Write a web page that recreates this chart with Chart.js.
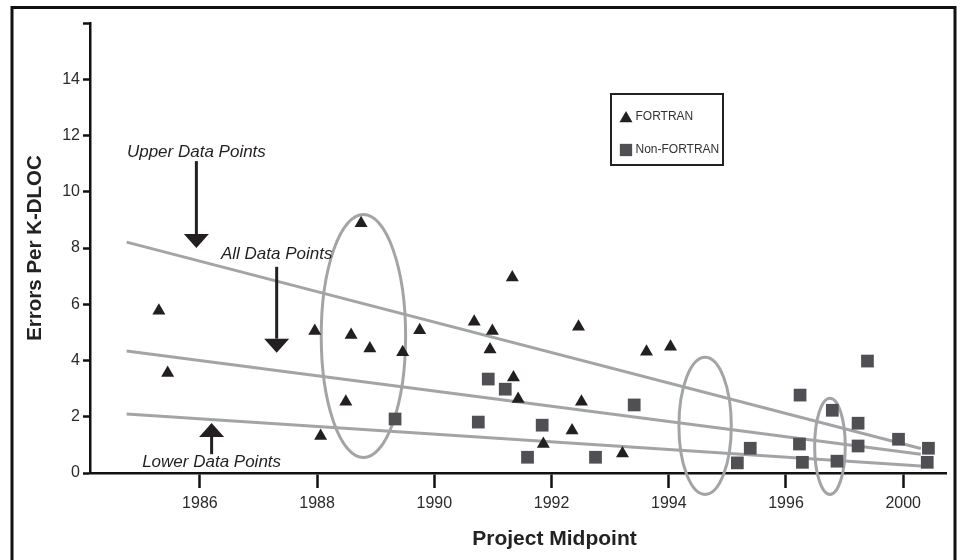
<!DOCTYPE html>
<html>
<head>
<meta charset="utf-8">
<title>Errors Per K-DLOC vs Project Midpoint</title>
<script src="https://cdn.jsdelivr.net/npm/chart.js@4.4.1/dist/chart.umd.min.js"></script>
<style>
  html, body { margin: 0; padding: 0; background: #fff; }
  #wrap { width: 963px; height: 560px; }
</style>
</head>
<body>
<div id="wrap"><canvas id="errChart" width="963" height="560"></canvas></div>
<script>
// x values are positions along the drawn axis (its last tick is labelled "2000")
const xTicks = [1986, 1988, 1990, 1992, 1994, 1996, 1998];
const xTickLabels = ["1986", "1988", "1990", "1992", "1994", "1996", "2000"];
const yTicks = [0, 2, 4, 6, 8, 10, 12, 14, 16];
const yTickLabels = ["0", "2", "4", "6", "8", "10", "12", "14", ""];

const fortranX = [1985.30, 1985.45, 1987.96, 1988.06, 1988.49, 1988.58, 1988.75, 1988.90,
  1989.46, 1989.75, 1990.68, 1990.95, 1990.99, 1991.33, 1991.35, 1991.43, 1991.86,
  1992.35, 1992.46, 1992.51, 1993.21, 1993.62, 1994.03];
const fortranY = [5.77, 3.56, 5.05, 1.32, 2.53, 4.91, 8.88, 4.43,
  4.29, 5.08, 5.38, 4.39, 5.05, 6.95, 3.40, 2.63, 1.03,
  1.51, 5.20, 2.53, 0.69, 4.31, 4.49];

const nonFortranX = [1989.33, 1990.75, 1990.92, 1991.21, 1991.59, 1991.84, 1992.75, 1993.41,
  1995.17, 1995.39, 1996.23, 1996.24, 1996.28, 1996.79, 1996.87, 1997.23, 1997.23,
  1997.39, 1997.92, 1998.41, 1998.43];
const nonFortranY = [1.92, 1.81, 3.34, 2.98, 0.56, 1.70, 0.56, 2.42,
  0.36, 0.88, 1.03, 2.77, 0.38, 2.23, 0.42, 0.96, 1.77,
  3.98, 1.20, 0.38, 0.88];

// trend lines (start, end)
const trendX = [1984.75, 1998.30];
const upperY = [8.21, 0.87];
const allY = [4.34, 0.67];
const lowerY = [2.10, 0.25];

// grey rings: centre and half sizes in axis units
const ringX = [1988.79, 1994.62, 1996.75];
const ringY = [4.87, 1.68, 0.95];
const ringRx = [0.72, 0.447, 0.261];
const ringRy = [4.32, 2.44, 1.71];

// arrow notes
const noteText = ["Upper Data Points", "All Data Points", "Lower Data Points"];
const noteX = [1985.94, 1987.31, 1986.20];
const noteTextY = [11.39, 7.79, 0.37];
const noteFromY = [11.09, 7.33, 0.67];
const noteToY = [8.0, 4.28, 1.78];

const FONT = '"Liberation Sans", Arial, sans-serif';
const INK = "#231f20";
const GRAY = "#a2a4a6";
const SQUARE = "#4f4f54";

Chart.defaults.font.family = FONT;

function pts(xs, ys) {
  return xs.map((x, i) => ({ x: x, y: ys[i] }));
}

const decor = {
  id: "decor",
  beforeDraw(chart) {
    const ctx = chart.ctx;
    ctx.save();
    ctx.fillStyle = "#fff";
    ctx.fillRect(0, 0, chart.width, chart.height);
    // outer frame, bottom edge falls just off the page
    ctx.strokeStyle = "#111";
    ctx.lineWidth = 3;
    ctx.strokeRect(12, 7.5, 943, 556);
    ctx.restore();
  },
  beforeDatasetsDraw(chart) {
    const { ctx, scales: { x, y } } = chart;
    ctx.save();
    ctx.strokeStyle = GRAY;
    ctx.lineWidth = 3;
    ringX.forEach((cx, i) => {
      const px = x.getPixelForValue(cx);
      const py = y.getPixelForValue(ringY[i]);
      const rx = x.getPixelForValue(cx + ringRx[i]) - px;
      const ry = py - y.getPixelForValue(ringY[i] + ringRy[i]);
      ctx.beginPath();
      ctx.ellipse(px, py, rx, ry, 0, 0, Math.PI * 2);
      ctx.stroke();
    });
    ctx.restore();
  },
  afterDraw(chart) {
    const { ctx, chartArea, scales: { x, y } } = chart;
    ctx.save();

    // arrows and their labels
    ctx.fillStyle = INK;
    ctx.strokeStyle = INK;
    ctx.lineWidth = 3;
    ctx.font = "italic 17px " + FONT;
    ctx.textAlign = "center";
    ctx.textBaseline = "middle";
    noteX.forEach((nx, i) => {
      const px = x.getPixelForValue(nx);
      const y0 = y.getPixelForValue(noteFromY[i]);
      const y1 = y.getPixelForValue(noteToY[i]);
      const dir = Math.sign(y1 - y0);
      const head = 14, half = 12.5;
      ctx.beginPath();
      ctx.moveTo(px, y0);
      ctx.lineTo(px, y1 - dir * head);
      ctx.stroke();
      ctx.beginPath();
      ctx.moveTo(px, y1);
      ctx.lineTo(px - half, y1 - dir * head);
      ctx.lineTo(px + half, y1 - dir * head);
      ctx.closePath();
      ctx.fill();
      ctx.fillText(noteText[i], px, y.getPixelForValue(noteTextY[i]));
    });

    // legend box
    const lx = chartArea.left + 520, ly = chartArea.top + 70;
    ctx.strokeStyle = "#222";
    ctx.lineWidth = 2;
    ctx.strokeRect(lx + 1, ly + 1, 112, 71);
    ctx.font = "12px " + FONT;
    ctx.textAlign = "left";
    ctx.fillStyle = "#333";
    const sets = chart.data.datasets.slice(0, 2);
    const rows = [ly + 24, ly + 57];
    sets.forEach((ds, i) => {
      ctx.fillStyle = ds.backgroundColor;
      const r = ds.pointStyle === "triangle" ? 7.5 : 8.7;
      Chart.helpers.drawPoint(ctx, { pointStyle: ds.pointStyle, radius: r, rotation: 0, borderWidth: 0 },
        lx + 16, rows[i] + (ds.pointStyle === "triangle" ? 1.5 : 0));
      ctx.fillStyle = "#333";
      ctx.fillText(ds.label, lx + 25.5, rows[i]);
    });

    // x axis title
    ctx.fillStyle = "#222";
    ctx.font = "bold 21px " + FONT;
    ctx.textAlign = "center";
    ctx.fillText("Project Midpoint", chartArea.left + 464.5, 539);
    ctx.restore();
  }
};

const tickStyle = { color: "#2b2b2b", font: { size: 16 } };

new Chart(document.getElementById("errChart"), {
  type: "scatter",
  data: {
    datasets: [
      {
        label: "FORTRAN",
        data: pts(fortranX, fortranY),
        pointStyle: "triangle",
        pointRadius: 7.5,
        backgroundColor: INK,
        borderWidth: 0
      },
      {
        label: "Non-FORTRAN",
        data: pts(nonFortranX, nonFortranY),
        pointStyle: "rect",
        pointRadius: 9,
        backgroundColor: SQUARE,
        borderWidth: 0
      },
      { label: "Upper", data: pts(trendX, upperY), showLine: true, borderColor: GRAY, borderWidth: 3, pointRadius: 0 },
      { label: "All", data: pts(trendX, allY), showLine: true, borderColor: GRAY, borderWidth: 3, pointRadius: 0 },
      { label: "Lower", data: pts(trendX, lowerY), showLine: true, borderColor: GRAY, borderWidth: 3, pointRadius: 0 }
    ]
  },
  options: {
    responsive: false,
    animation: false,
    events: [],
    layout: { autoPadding: false, padding: { left: 0, top: 23, right: 17, bottom: 0 } },
    plugins: {
      legend: { display: false },
      tooltip: { enabled: false }
    },
    scales: {
      x: {
        type: "linear",
        min: 1984.125,
        max: 1998.73,
        afterBuildTicks: (s) => { s.ticks = xTicks.map(v => ({ value: v })); },
        afterFit: (s) => { s.height = 87; },
        ticks: Object.assign({
          callback: (v, i) => xTickLabels[i],
          padding: 6,
          maxRotation: 0,
          autoSkip: false
        }, tickStyle),
        grid: { drawOnChartArea: false, tickLength: 15, tickWidth: 2.5, tickColor: "#111" },
        border: { display: true, color: "#111", width: 2.5 },
        title: { display: false }
      },
      y: {
        min: 0,
        max: 16,
        afterBuildTicks: (s) => { s.ticks = yTicks.map(v => ({ value: v })); },
        afterFit: (s) => { s.width = 90; },
        ticks: Object.assign({
          callback: (v, i) => yTickLabels[i],
          padding: 3
        }, tickStyle),
        grid: { drawOnChartArea: false, tickLength: 7, tickWidth: 2.5, tickColor: "#111" },
        border: { display: true, color: "#111", width: 2.5 },
        title: {
          display: true,
          text: "Errors Per K-DLOC",
          color: "#222",
          font: { size: 20.5, weight: "bold" },
          padding: { top: 23, bottom: 0 }
        }
      }
    }
  },
  plugins: [decor]
});
</script>
</body>
</html>
